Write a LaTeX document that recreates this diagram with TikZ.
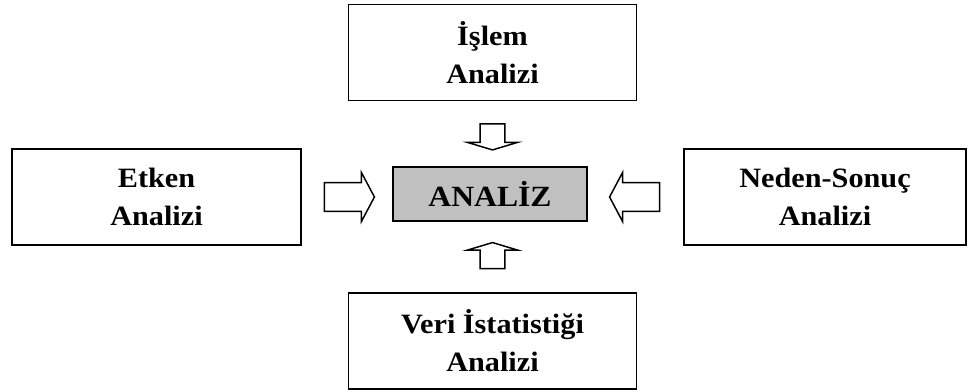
\documentclass[tikz,border=0pt]{standalone}
\usepackage{fontspec}
\setmainfont{Liberation Serif}[FakeStretch=1.08]
\usepackage{tikz}
\usetikzlibrary{calc}
\definecolor{boxgray}{RGB}{192, 192, 192}

\begin{document}
\begin{tikzpicture}[x=0.75pt, y=-0.75pt,
    analysisbox/.style={draw, line width=1.4pt, align=center,
        minimum width=216pt, minimum height=72pt,
        font=\bfseries\fontsize{21}{28.5}\selectfont},
    pics/harrow/.style={code={
        \draw[line width=1.1pt, fill=white] (0,-14.3) -- (37,-14.3) -- (37,-24.5)
            -- (50,0) -- (37,24.5) -- (37,14.3) -- (0,14.3) -- cycle;}},
    pics/varrow/.style={code={
        \draw[line width=1.1pt, fill=white] (0,-12.4) -- (18.5,-12.4) -- (18.5,-25)
            -- (26,0) -- (18.5,25) -- (18.5,12.4) -- (0,12.4) -- cycle;}}]
  \useasboundingbox (0,0) rectangle (968,392);

  % center
  \node[draw, line width=1.4pt, fill=boxgray, minimum width=145.5pt,
        minimum height=40.5pt, font=\bfseries\fontsize{22}{26}\selectfont]
        (analiz) at (490,194) {ANAL\.{I}Z};

  % four inputs
  \node[analysisbox] (islem) at (492.5,52.5) {\.{I}\c{s}lem\\Analizi};
  \node[analysisbox, minimum width=216.75pt] (etken) at (156.5,197) {Etken\\Analizi};
  \node[analysisbox, minimum width=211.5pt] (neden) at (825,197) {Neden-Sonu\c{c}\\Analizi};
  \node[analysisbox] (veri) at (492.5,341) {Veri \.{I}statisti\u{g}i\\Analizi};

  % block arrows
  \pic at ($(etken.east)+(22.5,0)$) {harrow};
  \pic[rotate=180] at ($(neden.west)+(-23.5,0)$) {harrow};
  \pic[rotate=-90] at ($(islem.south)+(0,22.5)$) {varrow};
  \pic[rotate=90] at ($(veri.north)+(0,-23.5)$) {varrow};
\end{tikzpicture}
\end{document}
